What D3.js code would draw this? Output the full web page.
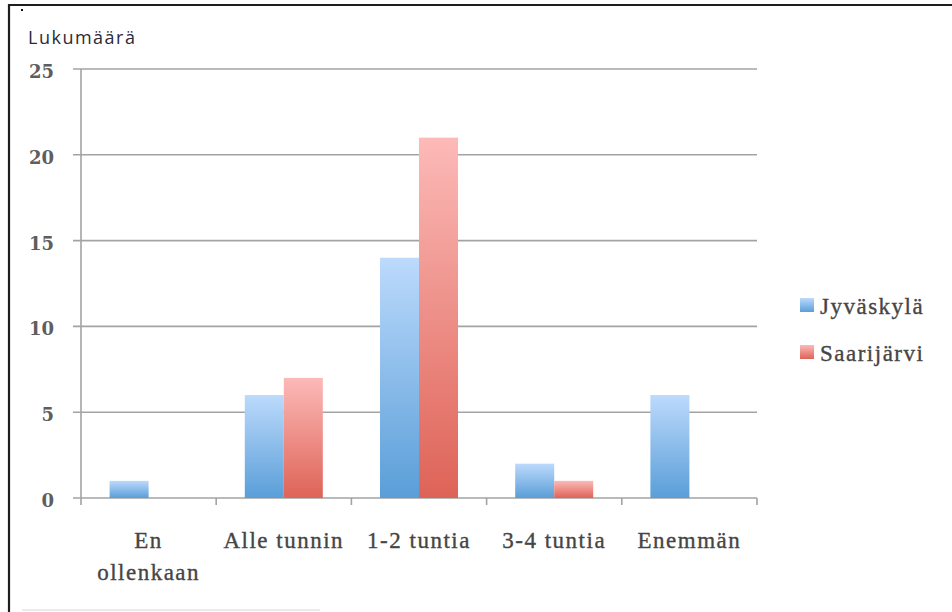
<!DOCTYPE html>
<html>
<head>
<meta charset="utf-8">
<script src="https://cdn.jsdelivr.net/npm/d3@7"></script>
<style>
  html, body { margin: 0; padding: 0; background: #fff; }
  svg { display: block; }
  .label { font-family: "Liberation Serif", serif; font-size: 23px; letter-spacing: 1.5px; }
</style>
</head>
<body>
<svg id="chart" width="952" height="612"></svg>
<script>
// Categories (time spent) and counts per town
const categories = [["En", "ollenkaan"], ["Alle tunnin"], ["1-2 tuntia"], ["3-4 tuntia"], ["Enemmän"]];
const seriesNames = ["Jyväskylä", "Saarijärvi"];
const jyvaskyla = [1, 6, 14, 2, 6];
const saarijarvi = [0, 7, 21, 1, 0];
const yTicks = [0, 5, 10, 15, 20, 25];
const yTitle = "Lukumäärä";

const values = [jyvaskyla, saarijarvi];
const catKeys = categories.map(c => c.join(" "));

const svg = d3.select("#chart");
const W = 952, H = 612;

// Frame lines
svg.append("line").attr("x1", 8).attr("x2", W).attr("y1", 5).attr("y2", 5)
  .attr("stroke", "#1e1e1e").attr("stroke-width", 2.2);
svg.append("line").attr("x1", 9).attr("x2", 9).attr("y1", 4).attr("y2", H)
  .attr("stroke", "#1e1e1e").attr("stroke-width", 2.2);
svg.append("rect").attr("x", 21).attr("y", 9).attr("width", 2).attr("height", 2).attr("fill", "#111");
svg.append("line").attr("x1", 22).attr("x2", 320).attr("y1", 610).attr("y2", 610)
  .attr("stroke", "#e4e4e4").attr("stroke-width", 1.5);

// Gradients for bar fills
const defs = svg.append("defs");
const grads = [
  { id: "gBlue", top: "#bcdafc", bottom: "#5a9ed8" },
  { id: "gRed", top: "#fcbab8", bottom: "#de6357" }
];
grads.forEach(g => {
  const lg = defs.append("linearGradient").attr("id", g.id)
    .attr("x1", 0).attr("y1", 0).attr("x2", 0).attr("y2", 1);
  lg.append("stop").attr("offset", "0%").attr("stop-color", g.top);
  lg.append("stop").attr("offset", "100%").attr("stop-color", g.bottom);
});

// Scales
const left = 81, right = 757, yZero = 498, yTop = 69;
const x = d3.scaleBand().domain(catKeys).range([left, right]).paddingInner(0).paddingOuter(0);
const xs = d3.scaleBand().domain(seriesNames).range([0, x.bandwidth()]).paddingInner(0).paddingOuter(0.733);
const y = d3.scaleLinear().domain([0, 25]).range([yZero, yTop]);

// Horizontal gridlines
const gridColor = "#a3a3a3";
svg.append("g").selectAll("line").data(yTicks).join("line")
  .attr("x1", left - 8).attr("x2", right)
  .attr("y1", d => y(d)).attr("y2", d => y(d))
  .attr("stroke", gridColor).attr("stroke-width", 1.6);

// Y axis line
svg.append("line").attr("x1", left).attr("x2", left).attr("y1", y(25)).attr("y2", yZero + 7)
  .attr("stroke", gridColor).attr("stroke-width", 1.6);

// X axis ticks at category boundaries
const bounds = catKeys.map(k => x(k)).concat([right]);
svg.append("g").selectAll("line").data(bounds.slice(1)).join("line")
  .attr("x1", d => d).attr("x2", d => d).attr("y1", yZero).attr("y2", yZero + 7)
  .attr("stroke", gridColor).attr("stroke-width", 1.6);

// Y tick labels
svg.append("g").selectAll("text").data(yTicks).join("text")
  .attr("x", 54).attr("y", d => y(d) + 9)
  .attr("text-anchor", "end")
  .attr("font-family", "DejaVu Serif").attr("font-weight", "bold").attr("font-size", 18)
  .attr("fill", "#5e5e5e")
  .text(d => d);

// Bars
const fills = ["url(#gBlue)", "url(#gRed)"];
seriesNames.forEach((s, si) => {
  svg.append("g").selectAll("rect").data(values[si].map((v, i) => ({ v, k: catKeys[i] })))
    .join("rect")
    .filter(d => d.v > 0)
    .attr("x", d => x(d.k) + xs(s))
    .attr("y", d => y(d.v))
    .attr("width", xs.bandwidth())
    .attr("height", d => yZero - y(d.v))
    .attr("fill", fills[si]);
});

// Category labels
const catG = svg.append("g");
categories.forEach((lines, i) => {
  const cx = x(catKeys[i]) + x.bandwidth() / 2;
  const t = catG.append("text")
    .attr("class", "label")
    .attr("x", cx)
    .attr("y", 548)
    .attr("text-anchor", "middle")
    .attr("fill", "#454545")
    .attr("stroke", "#454545").attr("stroke-width", 0.35);
  lines.forEach((ln, j) => {
    t.append("tspan").attr("x", cx).attr("dy", j === 0 ? 0 : 32).text(ln);
  });
});

// Axis title
svg.append("text").attr("x", 28).attr("y", 44)
  .attr("font-family", "Open Sans").attr("font-size", 18).attr("letter-spacing", 1.5)
  .attr("fill", "#2a2a3a")
  .text(yTitle);

// Legend
const legend = svg.append("g");
seriesNames.forEach((s, i) => {
  const ly = 298 + i * 47;
  legend.append("rect").attr("x", 800).attr("y", ly).attr("width", 14).attr("height", 14)
    .attr("fill", fills[i]);
  legend.append("text").attr("class", "label").attr("x", 820).attr("y", ly + 16)
    .attr("fill", "#454545")
    .attr("stroke", "#454545").attr("stroke-width", 0.35)
    .text(s);
});
</script>
</body>
</html>
